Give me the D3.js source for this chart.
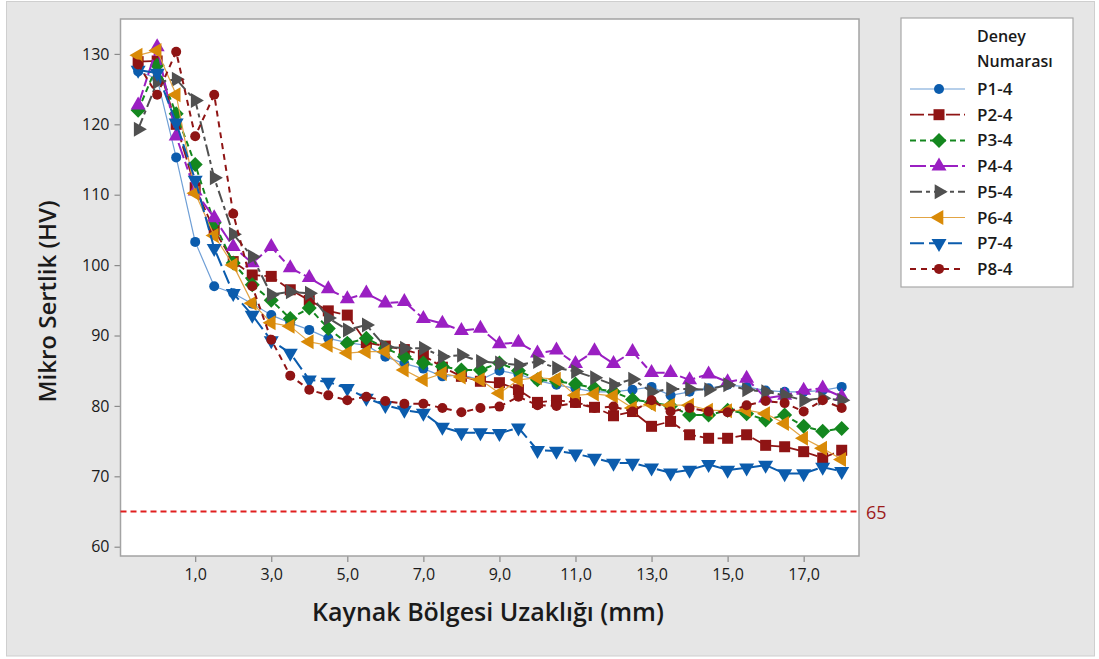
<!DOCTYPE html>
<html>
<head>
<meta charset="utf-8">
<script src="https://cdn.jsdelivr.net/npm/d3@7/dist/d3.min.js"></script>
<style>
  html, body { margin: 0; padding: 0; background: #ffffff; }
  svg { display: block; font-family: "Open Sans", "Noto Sans", sans-serif; }
</style>
</head>
<body>
<svg id="chart" width="1099" height="659"></svg>
<script>
// Distance from weld zone (mm)
const distances = [-0.5, 0, 0.5, 1, 1.5, 2, 2.5, 3, 3.5, 4, 4.5, 5, 5.5, 6, 6.5, 7, 7.5, 8, 8.5, 9,
                   9.5, 10, 10.5, 11, 11.5, 12, 12.5, 13, 13.5, 14, 14.5, 15, 15.5, 16, 16.5, 17, 17.5, 18];

// Micro hardness (HV) per experiment
const p1 = [127.5, 126.5, 115.3, 103.3, 97.0, 96.0, 94.5, 92.9, 91.8, 90.8, 89.6, 89.0, 88.6, 87.0, 86.0, 85.3, 84.2, 84.4, 83.7, 85.0,
            84.5, 83.6, 83.0, 82.5, 82.0, 82.0, 82.3, 82.7, 81.5, 82.0, 82.5, 83.0, 82.7, 82.2, 82.0, 82.0, 82.2, 82.7];
const p2 = [128.9, 129.0, 120.0, 111.0, 105.0, 100.5, 98.6, 98.4, 96.5, 95.0, 93.5, 92.9, 89.0, 88.5, 88.0, 87.2, 85.5, 84.2, 83.5, 83.3,
            82.3, 80.5, 80.8, 80.5, 79.8, 78.6, 79.2, 77.1, 77.8, 75.9, 75.4, 75.4, 75.9, 74.4, 74.2, 73.5, 72.6, 73.7];
const p3 = [122.0, 128.4, 121.5, 114.3, 106.0, 100.3, 97.2, 95.0, 92.4, 93.9, 91.0, 88.9, 89.6, 88.2, 87.0, 86.1, 85.6, 85.1, 85.1, 86.1,
            85.0, 83.7, 83.5, 83.1, 82.5, 82.0, 80.9, 80.5, 80.0, 78.7, 78.7, 79.4, 78.9, 78.0, 78.7, 77.1, 76.4, 76.8];
const p4 = [122.7, 131.0, 118.3, 110.5, 106.7, 102.6, 100.3, 102.6, 99.6, 98.2, 96.6, 95.2, 96.0, 94.6, 94.8, 92.4, 91.7, 90.7, 91.0, 88.8,
            89.0, 87.5, 87.9, 86.0, 87.8, 86.0, 87.7, 84.7, 84.7, 83.7, 84.5, 83.4, 83.9, 81.1, 81.5, 82.2, 82.5, 81.3];
const p5 = [119.3, 126.0, 126.4, 123.4, 112.4, 104.4, 101.2, 95.8, 96.2, 96.0, 92.5, 90.8, 91.5, 88.4, 88.2, 88.2, 87.0, 87.2, 86.3, 86.1,
            85.8, 86.3, 85.4, 84.9, 84.0, 83.0, 83.8, 82.0, 82.4, 82.4, 82.3, 83.0, 82.3, 82.0, 81.5, 80.8, 81.1, 80.8];
const p6 = [129.8, 130.5, 124.2, 110.2, 104.2, 100.0, 94.6, 91.8, 91.3, 89.1, 88.6, 87.5, 87.7, 87.7, 85.1, 83.7, 84.6, 84.1, 83.7, 81.8,
            83.7, 84.0, 83.8, 81.5, 81.7, 81.4, 79.7, 80.2, 80.1, 80.1, 79.4, 79.3, 79.4, 78.9, 77.5, 75.4, 74.0, 72.4];
const p7 = [127.7, 127.3, 120.2, 112.1, 102.4, 96.0, 92.9, 89.3, 87.5, 83.7, 83.4, 82.5, 81.1, 80.1, 79.4, 79.0, 77.0, 76.2, 76.2, 76.1,
            76.9, 73.7, 73.6, 73.2, 72.6, 71.9, 71.9, 71.2, 70.5, 70.9, 71.7, 70.9, 71.2, 71.6, 70.4, 70.4, 71.3, 70.7];
const p8 = [128.5, 124.2, 130.3, 118.3, 124.2, 107.3, 97.0, 89.4, 84.3, 82.3, 81.5, 80.8, 81.3, 80.7, 80.3, 80.3, 79.7, 79.1, 79.7, 79.9,
            81.3, 80.1, 80.0, 80.4, 79.7, 79.9, 79.2, 80.8, 79.2, 79.7, 79.2, 79.1, 80.1, 80.7, 80.4, 79.2, 80.8, 79.7];

const seriesNames = ["P1-4", "P2-4", "P3-4", "P4-4", "P5-4", "P6-4", "P7-4", "P8-4"];
const xTicks = [1, 3, 5, 7, 9, 11, 13, 15, 17];
const yTicks = [60, 70, 80, 90, 100, 110, 120, 130];
const limitValue = 65;

// Visual style per series
const styles = [
  { shape: "circle",   fill: "#0b5cad", stroke: "#6f9fd6", width: 1.2, dash: null },
  { shape: "square",   fill: "#8f1414", stroke: "#8f1414", width: 1.8, dash: "14,4" },
  { shape: "diamond",  fill: "#14871f", stroke: "#14871f", width: 2.0, dash: "6,4" },
  { shape: "triUp",    fill: "#9a1fc2", stroke: "#9a1fc2", width: 2.0, dash: "16,4,8,4" },
  { shape: "triRight", fill: "#505050", stroke: "#505050", width: 2.0, dash: "12,4,4,4" },
  { shape: "triLeft",  fill: "#d98a07", stroke: "#e2a444", width: 1.2, dash: null },
  { shape: "triDown",  fill: "#0b5cad", stroke: "#0b5cad", width: 2.0, dash: "14,5" },
  { shape: "circle",   fill: "#8f1414", stroke: "#8f1414", width: 2.0, dash: "6,5" }
];
const seriesValues = [p1, p2, p3, p4, p5, p6, p7, p8];

const svg = d3.select("#chart");
const W = 1099, H = 659;

// Figure background
svg.append("rect").attr("x", 0).attr("y", 0).attr("width", W).attr("height", H).attr("fill", "#ffffff");
svg.append("rect").attr("x", 6.5).attr("y", 1.5).attr("width", 1088).attr("height", 654.5)
   .attr("fill", "#e6e6e6").attr("stroke", "#cfcfcf").attr("stroke-width", 1);

const plot = { left: 120.5, right: 859, top: 19, bottom: 556 };

const x = d3.scaleLinear().domain([-0.964, 18.455]).range([plot.left, plot.right]);
const y = d3.scaleLinear().domain([58.68, 134.96]).range([plot.bottom, plot.top]);

svg.append("rect")
   .attr("x", plot.left).attr("y", plot.top)
   .attr("width", plot.right - plot.left).attr("height", plot.bottom - plot.top)
   .attr("fill", "#ffffff");

// Axes
const fmt = d => d.toFixed(1).replace(".", ",");
const xAxis = svg.append("g").attr("transform", `translate(0,${plot.bottom})`)
  .call(d3.axisBottom(x).tickValues(xTicks).tickFormat(fmt).tickSize(6).tickPadding(7).tickSizeOuter(0));
const yAxis = svg.append("g").attr("transform", `translate(${plot.left},0)`)
  .call(d3.axisLeft(y).tickValues(yTicks).tickSize(6).tickPadding(5).tickSizeOuter(0));
[xAxis, yAxis].forEach(a => {
  a.select(".domain").remove();
  a.selectAll(".tick line").attr("stroke", "#8a8a8a").attr("stroke-width", 1.2);
  a.selectAll(".tick text").attr("fill", "#1a1a1a").style("font-size", "16px")
   .style("font-family", "'Open Sans', sans-serif");
});

// Plot frame
svg.append("rect")
   .attr("x", plot.left).attr("y", plot.top)
   .attr("width", plot.right - plot.left).attr("height", plot.bottom - plot.top)
   .attr("fill", "none").attr("stroke", "#a3a3a3").attr("stroke-width", 1.5);

// Axis titles
svg.append("text")
   .attr("x", 488).attr("y", 621)
   .attr("text-anchor", "middle").attr("fill", "#1a1a1a")
   .style("font-size", "25px").style("font-weight", 600)
   .text("Kaynak Bölgesi Uzaklığı (mm)");
svg.append("text")
   .attr("transform", `translate(56,${(plot.top + plot.bottom) / 2 + 14}) rotate(-90)`)
   .attr("text-anchor", "middle").attr("fill", "#1a1a1a")
   .style("font-size", "24px").style("font-weight", 600)
   .text("Mikro Sertlik (HV)");

// Reference limit line
svg.append("line")
   .attr("x1", plot.left).attr("x2", plot.right)
   .attr("y1", y(limitValue)).attr("y2", y(limitValue))
   .attr("stroke", "#e01e1e").attr("stroke-width", 2).attr("stroke-dasharray", "6,4");
svg.append("text")
   .attr("x", plot.right + 7).attr("y", y(limitValue) + 7)
   .attr("fill", "#9c1a1a").style("font-size", "18px")
   .text(limitValue);

// Marker geometry
function markerPath(shape) {
  switch (shape) {
    case "circle": return d3.symbol(d3.symbolCircle, Math.PI * 5 * 5)();
    case "square": return "M-5.5,-5.5H5.5V5.5H-5.5Z";
    case "diamond": return "M0,-7.5L7.5,0L0,7.5L-7.5,0Z";
    case "triUp": return "M0,-8.7L7.5,4.3L-7.5,4.3Z";
    case "triDown": return "M0,8.7L7.5,-4.3L-7.5,-4.3Z";
    case "triRight": return "M8.7,0L-4.3,7.5L-4.3,-7.5Z";
    case "triLeft": return "M-8.7,0L4.3,7.5L4.3,-7.5Z";
  }
}

const line = d3.line().x(d => x(d.x)).y(d => y(d.y));

seriesValues.forEach((vals, i) => {
  const st = styles[i];
  const pts = distances.map((d, k) => ({ x: d, y: vals[k] }));
  const g = svg.append("g").attr("class", "series");
  g.append("path").datum(pts)
    .attr("d", line).attr("fill", "none")
    .attr("stroke", st.stroke).attr("stroke-width", st.width)
    .attr("stroke-dasharray", st.dash)
    .attr("stroke-linejoin", "round");
  g.selectAll("path.m").data(pts).join("path").attr("class", "m")
    .attr("d", markerPath(st.shape))
    .attr("transform", d => `translate(${x(d.x)},${y(d.y)})`)
    .attr("fill", st.fill);
});

// Legend
const lg = svg.append("g");
lg.append("rect").attr("x", 901).attr("y", 18).attr("width", 172).attr("height", 269)
  .attr("fill", "#ffffff").attr("stroke", "#a8a8a8").attr("stroke-width", 1.2);
lg.append("text").attr("x", 977).attr("y", 42).attr("fill", "#1a1a1a")
  .style("font-size", "16px").style("font-weight", 600).text("Deney");
lg.append("text").attr("x", 977).attr("y", 67).attr("fill", "#1a1a1a")
  .style("font-size", "16px").style("font-weight", 600).text("Numarası");
seriesNames.forEach((name, i) => {
  const st = styles[i];
  const cy = 89 + i * 25.7;
  lg.append("line").attr("x1", 910).attr("x2", 965).attr("y1", cy).attr("y2", cy)
    .attr("stroke", st.stroke).attr("stroke-width", st.width)
    .attr("stroke-dasharray", st.dash);
  lg.append("path").attr("d", markerPath(st.shape))
    .attr("transform", `translate(939,${cy})`).attr("fill", st.fill);
  lg.append("text").attr("x", 977).attr("y", cy + 6).attr("fill", "#1a1a1a")
    .style("font-size", "17px").style("font-weight", 600).text(name);
});
</script>
</body>
</html>
